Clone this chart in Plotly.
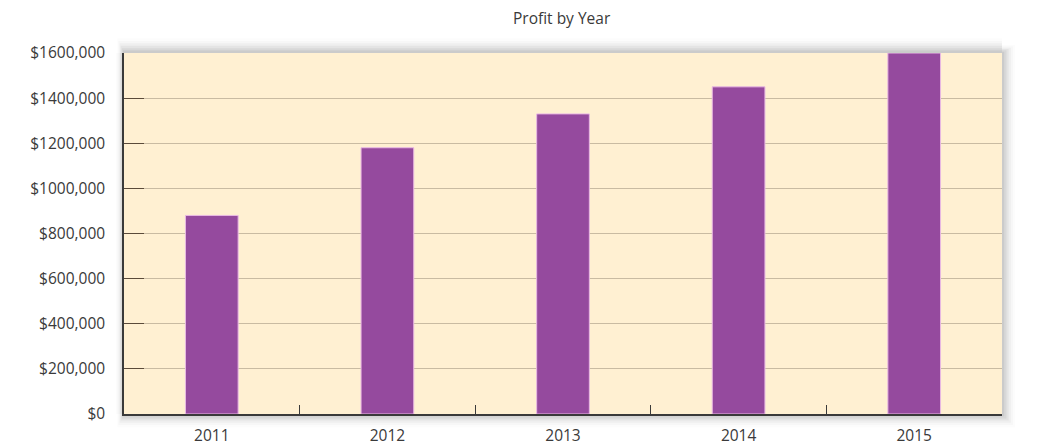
import plotly.graph_objects as go

years = ["2011", "2012", "2013", "2014", "2015"]
profit = [880000, 1180000, 1330000, 1450000, 1600000]
tick_vals = [0, 200000, 400000, 600000, 800000, 1000000, 1200000, 1400000, 1600000]
tick_text = ["$0", "$200,000", "$400,000", "$600,000", "$800,000", "$1000,000",
             "$1200,000", "$1400,000", "$1600,000"]

fig = go.Figure()
fig.add_trace(go.Bar(
    x=years, y=profit,
    marker=dict(color="#954A9E", line=dict(color="#E9B9E3", width=1)),
    width=0.3,
))

# soft shadow around the plot area (outside only)
shapes = []
steps = 6
for i in range(steps):
    op = 0.10 * (1 - i / steps)
    dx = (i + 1) * 2.2 / 878
    dy = (i + 1) * 2.2 / 361
    col = f"rgba(90,90,90,{op:.3f})"
    shapes.append(dict(type="rect", xref="paper", yref="paper", x0=1.0, x1=1.0 + dx,
                       y0=-dy, y1=1.0 + dy * 0.6, line=dict(width=0), fillcolor=col, layer="below"))
    shapes.append(dict(type="rect", xref="paper", yref="paper", x0=-dx * 0.5, x1=1.0,
                       y0=-dy, y1=0.0, line=dict(width=0), fillcolor=col, layer="below"))
    shapes.append(dict(type="rect", xref="paper", yref="paper", x0=-dx * 0.5, x1=1.0,
                       y0=1.0, y1=1.0 + dy * 1.1, line=dict(width=0), fillcolor=col, layer="below"))
    shapes.append(dict(type="rect", xref="paper", yref="paper", x0=-dx * 0.6, x1=0.0,
                       y0=0.0, y1=1.0, line=dict(width=0), fillcolor=col, layer="below"))

FONT = "Open Sans, sans-serif"

fig.update_layout(
    width=1029, height=439,
    margin=dict(l=116, r=35, t=45, b=33, autoexpand=False),
    paper_bgcolor="white",
    plot_bgcolor="#FFF0D2",
    showlegend=False,
    bargap=0.7,
    shapes=shapes,
    title=dict(text="Profit by Year", x=0.538, xanchor="center", y=0.977, yanchor="middle",
               font=dict(family=FONT, size=15.5, color="#3a3a3a")),
    font=dict(family=FONT, size=15.5, color="#3a3a3a"),
)
fig.update_xaxes(
    type="category",
    automargin=False,
    showline=True, linecolor="#3a3a3a", linewidth=1.5,
    ticks="inside", ticklen=9, tickcolor="#3a3a3a", tickwidth=1,
    tickson="boundaries",
    showgrid=False,
    ticklabelstandoff=7,
    tickfont=dict(family=FONT, size=15.5, color="#3a3a3a"),
)
fig.update_yaxes(
    range=[0, 1600000],
    automargin=False,
    tickvals=tick_vals, ticktext=tick_text,
    showline=True, linecolor="#3a3a3a", linewidth=1.5,
    ticks="inside", ticklen=20, tickcolor="#5a4a3a", tickwidth=1,
    showgrid=True, gridcolor="#C9BBA2", gridwidth=1,
    zeroline=False,
    ticklabelstandoff=14,
    tickfont=dict(family=FONT, size=15.5, color="#3a3a3a"),
)

fig.write_html("out.html")
